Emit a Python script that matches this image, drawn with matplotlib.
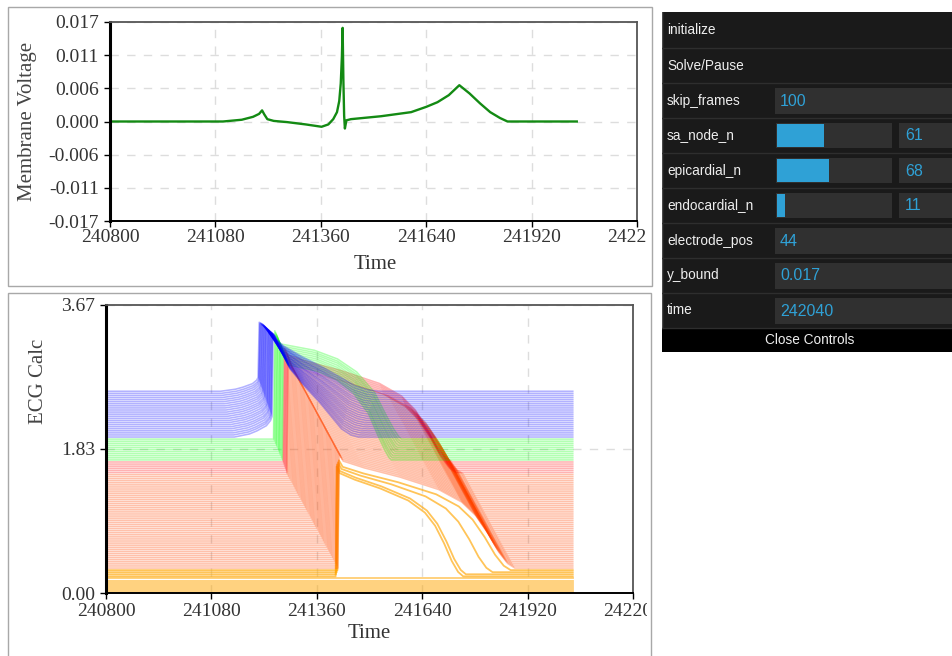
import numpy as np
import matplotlib
matplotlib.use("Agg")
import matplotlib.pyplot as plt
from matplotlib.patches import Rectangle
from matplotlib.transforms import Bbox, TransformedBbox

plt.rcParams["font.family"] = ["Liberation Serif", "DejaVu Serif"]
plt.rcParams["axes.unicode_minus"] = False

# ---- time axis ----
t_start = 240800
t_now = 242040
time_ticks = [240800, 241080, 241360, 241640, 241920, 242200]
time_labels = ["240800", "241080", "241360", "241640", "241920", "242200"]

# ---- electrode (membrane voltage) trace ----
ecg_t = [240800, 241100, 241150, 241180, 241196, 241204, 241210, 241218, 241235,
         241270, 241320, 241362, 241380, 241393, 241403, 241409, 241413, 241416,
         241418, 241420, 241422, 241424, 241428, 241440, 241520, 241600, 241640,
         241670, 241700, 241728, 241755, 241783, 241810, 241836, 241856, 242040]
ecg_v = [0.0, 0.0, 0.0003, 0.0008, 0.0013, 0.0019, 0.0012, 0.0004, 0.0001,
         -0.0001, -0.0005, -0.0009, -0.0005, 0.0004, 0.0016, 0.0035, 0.0065, 0.0110,
         0.0160, 0.0070, 0.0010, -0.0012, 0.0002, 0.0004, 0.0009, 0.0016, 0.0025,
         0.0033, 0.0045, 0.0062, 0.0048, 0.0031, 0.0016, 0.0006, 0.0, 0.0]
volt_ticks = [-0.017, -0.011333, -0.005667, 0.0, 0.005667, 0.011333, 0.017]
volt_labels = ["-0.017", "-0.011", "-0.006", "0.000", "0.006", "0.011", "0.017"]

# ---- stacked cell action potentials ----
calc_ticks = [0.0, 1.835, 3.67]
calc_labels = ["0.00", "1.83", "3.67"]
cell_step = 0.0265  # vertical offset between neighbouring cells

# action potential shapes: fraction of the beat duration -> fraction of amplitude
plateau_s = [0, 0.008, 0.03, 0.15, 0.35, 0.57, 0.70, 0.78, 0.85, 0.91, 0.96, 1.0]
plateau_f = [0, 1.0, 0.94, 0.88, 0.80, 0.69, 0.58, 0.46, 0.30, 0.14, 0.04, 0]
green_s = [0, 0.01, 0.05, 0.32, 0.50, 0.65, 0.79, 0.88, 0.94, 0.98, 1.0]
green_f = [0, 1.0, 0.88, 0.82, 0.74, 0.62, 0.43, 0.22, 0.09, 0.02, 0]
# pacemaker cells: slow diastolic rise (time units before upstroke), then the decay
sa_pre_t = [-100, -60, -40, -15, -4, 0]
sa_pre_f = [0.0, 0.03, 0.06, 0.11, 0.16, 0.2]
sa_s = [0, 0.03, 0.09, 0.2, 0.36, 0.54, 0.68, 0.8, 0.91, 1.0]
sa_f = [1.0, 0.97, 0.84, 0.66, 0.50, 0.34, 0.20, 0.08, 0.02, 0]

# bottom cells (nan = no beat inside the window)
nan = np.nan
endo_act = [nan, nan, nan, nan, nan, nan, nan, nan, 241410, 241411, 241413, 241415]
endo_apd = [nan, nan, nan, nan, nan, nan, nan, nan, 339, 345, 414, 460]
endo_amp = 1.40

orange_act = [241416, 241413, 241410, 241407, 241404, 241401, 241398, 241395, 241392, 241389,
              241386, 241383, 241380, 241377, 241374, 241371, 241368, 241365, 241362, 241359,
              241356, 241353, 241350, 241347, 241344, 241341, 241338, 241335, 241332, 241329,
              241326, 241323, 241320, 241317, 241314, 241311, 241308, 241305, 241302, 241299,
              241296, 241293, 241290, 241287, 241284, 241281]
orange_apd = 470
orange_amp = 1.45

red_act = [241280, 241278, 241276, 241274, 241272, 241270]
red_apd = 450
red_amp = 1.45

green_act = [241268, 241266, 241263, 241261, 241259, 241257, 241254, 241252, 241250, 241247, 241245]
green_apd = [290, 295, 300, 305, 310, 315, 320, 325, 330, 335, 340]
green_amp = 1.38

blue_act = [241241, 241239, 241238, 241236, 241234, 241233, 241231, 241229, 241228, 241226,
            241224, 241222, 241221, 241219, 241217, 241216, 241214, 241212, 241211, 241209,
            241207, 241206, 241204]
blue_peak = [3.30, 3.31, 3.31, 3.32, 3.33, 3.33, 3.34, 3.35, 3.35, 3.36,
             3.37, 3.37, 3.38, 3.39, 3.39, 3.40, 3.41, 3.41, 3.42, 3.43,
             3.43, 3.44, 3.45]
blue_apd = [230, 234, 238, 242, 246, 250, 254, 258, 262, 266,
            270, 275, 279, 283, 287, 291, 295, 299, 303, 307,
            311, 315, 320]

# ---- control panel ----
control_names = ["initialize", "Solve/Pause", "skip_frames", "sa_node_n", "epicardial_n",
                 "endocardial_n", "electrode_pos", "y_bound", "time"]
control_values = [None, None, "100", 61, 68, 11, "44", "0.017", "242040"]
slider_max = 150


def beat(act, apd, base, peak, shape_s, shape_f):
    t = act + apd * np.asarray(shape_s, dtype=float)
    v = base + (peak - base) * np.asarray(shape_f, dtype=float)
    return np.r_[t_start, t, t_now], np.r_[base, v, base]


def pacemaker_beat(act, apd, base, peak):
    amp = peak - base
    t_pre = act + np.asarray(sa_pre_t, dtype=float)
    v_pre = base + amp * np.asarray(sa_pre_f, dtype=float)
    t_post = act + 3 + (apd - 3) * np.asarray(sa_s, dtype=float)
    v_post = base + amp * np.asarray(sa_f, dtype=float)
    return np.r_[t_start, t_pre, t_post, t_now], np.r_[base, v_pre, v_post, base]


def style_axes(ax, xpad):
    for side in ["top", "right"]:
        ax.spines[side].set_color("#555555")
        ax.spines[side].set_linewidth(1.3)
    ax.spines["left"].set_color("black")
    ax.spines["left"].set_linewidth(2.2)
    ax.spines["bottom"].set_color("black")
    ax.spines["bottom"].set_linewidth(1.4)
    ax.tick_params(direction="out", length=4, width=1, color="black",
                   labelsize=14, labelcolor="#333333")
    ax.tick_params(axis="x", pad=xpad)
    ax.tick_params(axis="y", pad=4)
    ax.grid(True, color="#dddddd", ls=(0, (6, 6)), lw=1)
    ax.set_axisbelow(True)
    ax.set_xlim(240800, 242200)
    ax.set_xticks(time_ticks)
    ax.set_xticklabels(time_labels)


fig = plt.figure(figsize=(9.53, 6.56), dpi=100)
W, H = 953, 656

# panel frames
fig.add_artist(Rectangle((8 / W, 1 - 286 / H), 644 / W, 279 / H, transform=fig.transFigure,
                         fill=False, ec="#a8a8a8", lw=1))
fig.add_artist(Rectangle((8 / W, 1 - 670 / H), 643 / W, 377 / H, transform=fig.transFigure,
                         fill=False, ec="#a8a8a8", lw=1))

clip = TransformedBbox(Bbox([[0, 0], [647 / W, 1]]), fig.transFigure)

# top: membrane voltage
ax1 = fig.add_axes([110 / W, 1 - 221 / H, 527 / W, 199 / H])
style_axes(ax1, 1.5)
ax1.plot(ecg_t, ecg_v, color="#138a13", lw=1.7)
ax1.set_ylim(-0.017, 0.017)
ax1.set_yticks(volt_ticks)
ax1.set_yticklabels(volt_labels)
ax1.set_ylabel("Membrane Voltage", fontsize=15, color="#444444")
ax1.yaxis.set_label_coords(-0.157, 0.5)
ax1.yaxis.label.set_va("center")
ax1.set_xlabel("Time", fontsize=15, color="#333333")
ax1.xaxis.set_label_coords(0.503, -0.221)
ax1.xaxis.label.set_va("center")

# bottom: stacked action potentials
ax2 = fig.add_axes([106 / W, 1 - 593 / H, 527 / W, 288 / H])
style_axes(ax2, 3.5)
ax2.set_ylim(0, 3.67)
ax2.set_yticks(calc_ticks)
ax2.set_yticklabels(calc_labels)
ax2.set_ylabel("ECG Calc", fontsize=15, color="#444444")
ax2.yaxis.set_label_coords(-0.129, 0.736)
ax2.yaxis.label.set_va("center")
ax2.set_xlabel("Time", fontsize=15, color="#333333")
ax2.xaxis.set_label_coords(0.50, -0.142)
ax2.xaxis.label.set_va("center")

lw = 1.15
idx = 0
for act, apd in zip(endo_act, endo_apd):
    base = idx * cell_step
    if np.isnan(act):
        ax2.plot([t_start, t_now], [base, base], color="orange", alpha=0.55, lw=1.3)
    else:
        t, v = beat(act, apd, base, base + endo_amp, plateau_s, plateau_f)
        ax2.plot(t, v, color="orange", alpha=0.65, lw=1.3)
    idx += 1

for act in orange_act:
    base = idx * cell_step
    t, v = beat(act, orange_apd, base, base + orange_amp, plateau_s, plateau_f)
    ax2.plot(t, v, color="orangered", alpha=0.33, lw=lw)
    idx += 1

for act in red_act:
    base = idx * cell_step
    t, v = beat(act, red_apd, base, base + red_amp, plateau_s, plateau_f)
    ax2.plot(t, v, color="red", alpha=0.3, lw=lw)
    idx += 1

for act, apd in zip(green_act, green_apd):
    base = idx * cell_step
    t, v = beat(act, apd, base, base + green_amp, green_s, green_f)
    ax2.plot(t, v, color="lime", alpha=0.3, lw=lw)
    idx += 1

for act, peak, apd in zip(blue_act, blue_peak, blue_apd):
    base = idx * cell_step
    t, v = pacemaker_beat(act, apd, base, peak)
    ax2.plot(t, v, color="blue", alpha=0.3, lw=lw)
    idx += 1

for ax in (ax1, ax2):
    for lab in ax.get_xticklabels():
        lab.set_clip_box(clip)
        lab.set_clip_on(True)

# ---- control panel ----
axc = fig.add_axes([662 / W, 1 - 352 / H, 1 - 662 / W, 340 / H])
axc.set_xlim(662, 953)
axc.set_ylim(352, 12)
axc.axis("off")
sans = ["Liberation Sans", "DejaVu Sans"]
axc.add_patch(Rectangle((662, 12), 300, 316, fc="#1a1a1a", ec="none"))
axc.plot([662.5, 662.5], [12, 328], color="#4a4a4a", lw=1)
row_h = 35
for i, (name, val) in enumerate(zip(control_names, control_values)):
    top = 13 + i * row_h
    axc.plot([662, 953], [top + row_h, top + row_h], color="#2e2e2e", lw=1)
    axc.text(667, top + row_h / 2, name, color="#eeeeee", fontsize=9.8,
             family=sans, va="center", ha="left")
    if val is None:
        continue
    if isinstance(val, str):
        axc.add_patch(Rectangle((775, top + 5), 200, 26, fc="#303030", ec="none"))
        axc.text(780, top + 18, val, color="#2fa1d6", fontsize=11.5,
                 family=sans, va="center", ha="left")
    else:
        axc.add_patch(Rectangle((776, top + 5), 116, 25, fc="#303030", ec="none"))
        axc.add_patch(Rectangle((777, top + 6), 115 * val / slider_max, 23,
                                fc="#2fa1d6", ec="none"))
        axc.add_patch(Rectangle((899, top + 5), 80, 25, fc="#303030", ec="none"))
        axc.text(905, top + 18, str(val), color="#2fa1d6", fontsize=11.5,
                 family=sans, va="center", ha="left")
axc.add_patch(Rectangle((662, 328), 300, 24, fc="#000000", ec="none"))
axc.text(810, 340, "Close Controls", color="#eeeeee", fontsize=9.8,
         family=sans, va="center", ha="center")

fig.savefig("out.png", dpi=100, facecolor="white")
